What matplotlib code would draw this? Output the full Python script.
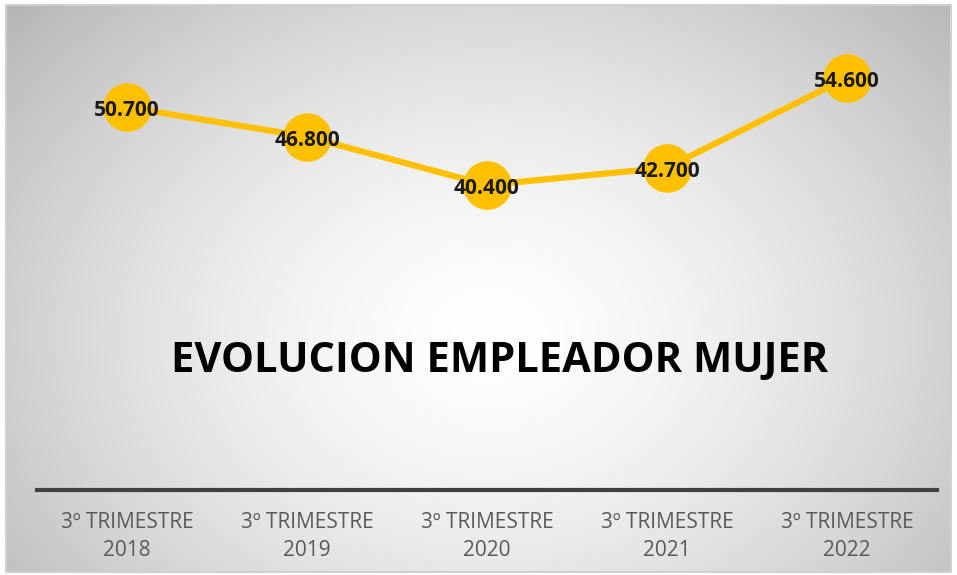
import numpy as np
import matplotlib
matplotlib.use("Agg")
import matplotlib.pyplot as plt

categories = ["3º TRIMESTRE\n2018", "3º TRIMESTRE\n2019", "3º TRIMESTRE\n2020",
              "3º TRIMESTRE\n2021", "3º TRIMESTRE\n2022"]
values = [50.7, 46.8, 40.4, 42.7, 54.6]
value_labels = ["50.700", "46.800", "40.400", "42.700", "54.600"]
title = "EVOLUCION EMPLEADOR MUJER"

W, H = 957, 575
fig = plt.figure(figsize=(W / 100, H / 100), dpi=100)
fig.patch.set_facecolor("white")

# background radial gradient panel
bg = fig.add_axes([6 / W, 1 - 572 / H, (951 - 6) / W, (572 - 5) / H])
ny, nx = 300, 500
yy, xx = np.mgrid[0:ny, 0:nx]
cx, cy = nx * 0.51, ny * 0.58
r = np.sqrt(((xx - cx) / (nx * 0.60)) ** 2 + ((yy - cy) / (ny * 0.78)) ** 2)
r = np.clip(r, 0, 1.2)
g = 1.0 - 0.24 * r ** 1.5
img = np.dstack([g, g, g])
bg.imshow(img, aspect="auto", extent=[0, 1, 0, 1], interpolation="bilinear")
bg.set_xlim(0, 1)
bg.set_ylim(0, 1)
bg.set_xticks([])
bg.set_yticks([])
for s in bg.spines.values():
    s.set_color("#D0D0D0")
    s.set_linewidth(1.5)

ax = fig.add_axes([37 / W, 1 - 490 / H, 900 / W, (490 - 37) / H])
ax.patch.set_alpha(0)
x = np.arange(len(values))
ax.plot(x, values, color="#FFC000", lw=4.5, marker="o", markersize=34,
        markerfacecolor="#FFC000", markeredgecolor="#FFC000", zorder=3,
        solid_capstyle="round")
for xi, v, lab in zip(x, values, value_labels):
    ax.text(xi, v - 0.5, lab, ha="center", va="center", fontsize=15,
            fontweight="bold", color="#1a1a1a", family="Open Sans", zorder=4)

ax.set_xlim(-0.5, 4.5)
ax.set_ylim(0, 60)
ax.set_yticks([])
ax.set_xticks(x)
ax.set_xticklabels(categories, fontsize=15, color="#595959", family="Open Sans",
                   linespacing=1.42)
ax.tick_params(axis="x", length=0, pad=16)
for k in ["top", "right", "left"]:
    ax.spines[k].set_visible(False)
ax.spines["bottom"].set_color("#404040")
ax.spines["bottom"].set_linewidth(3)

fig.text(500 / W, 1 - 361 / H, title, ha="center", va="center", fontsize=30,
         fontweight="bold", color="black", family="Open Sans")

fig.savefig("out.png", dpi=100)
